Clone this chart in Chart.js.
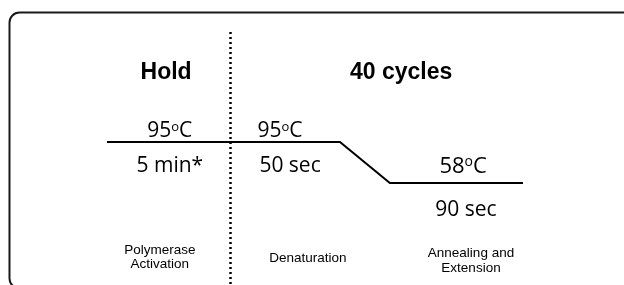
<!DOCTYPE html>
<html>
<head>
<meta charset="utf-8">
<script src="https://cdn.jsdelivr.net/npm/chart.js@4.4.0/dist/chart.umd.min.js"></script>
<style>
    body { margin: 0; background: #fff; }
    #wrap { width: 624px; height: 285px; position: relative; }
</style>
</head>
<body>
<div id="wrap"><canvas id="myChart"></canvas></div>
<script>
// temperature profile (x = stage position, y = temperature in C)
const profileX = [0, 5.6, 6.8, 10];
const profileT = [95, 95, 58, 58];
const stageBreak = 2.95;

const stageTitles = ['Hold', '40 cycles'];
const tempLabels = ['95', '95', '58'];
const timeLabels = ['5 min*', '50 sec', '90 sec'];
const stepNames = [['Polymerase', 'Activation'], ['Denaturation'], ['Annealing and', 'Extension']];

const points = profileX.map((x, i) => ({ x: x, y: profileT[i] }));

// draws "95oC" with a small raised o
const drawTemp = (ctx, num, cx, y, size) => {
    const big = size + 'px "Open Sans"';
    const small = Math.round(size * 0.62) + 'px "Open Sans"';
    ctx.font = big;
    const w1 = ctx.measureText(num).width;
    const w3 = ctx.measureText('C').width;
    ctx.font = small;
    const w2 = ctx.measureText('o').width;
    let x = cx - (w1 + w2 + w3) / 2;
    ctx.textAlign = 'left';
    ctx.font = big;
    ctx.fillText(num, x, y);
    x += w1;
    ctx.font = small;
    ctx.fillText('o', x, y - size * 0.3);
    x += w2;
    ctx.font = big;
    ctx.fillText('C', x, y);
};

const decor = {
    id: 'decor',
    beforeDraw: (chart) => {
        const ctx = chart.ctx;
        ctx.save();
        ctx.fillStyle = '#fff';
        ctx.fillRect(0, 0, chart.width, chart.height);
        // rounded frame
        ctx.strokeStyle = '#1a1a1a';
        ctx.lineWidth = 2;
        ctx.beginPath();
        ctx.roundRect(9.5, 12.5, 700, 276, 10);
        ctx.stroke();
        ctx.restore();
    },
    afterDraw: (chart) => {
        const ctx = chart.ctx;
        const xs = chart.scales.x;
        ctx.save();
        // dotted divider between hold and cycles
        const bx = Math.round(xs.getPixelForValue(stageBreak)) + 0.5;
        ctx.strokeStyle = '#000';
        ctx.lineWidth = 2.5;
        ctx.setLineDash([2, 3]);
        ctx.beginPath();
        ctx.moveTo(bx, 32);
        ctx.lineTo(bx, 285);
        ctx.stroke();
        ctx.setLineDash([]);

        ctx.fillStyle = '#000';
        ctx.textBaseline = 'alphabetic';
        ctx.textAlign = 'center';
        ctx.font = 'bold 23px "Liberation Sans", Arial';
        ctx.fillText(stageTitles[0], xs.getPixelForValue(1.42), 79);
        ctx.fillText(stageTitles[1], xs.getPixelForValue(7.07), 79);

        drawTemp(ctx, tempLabels[0], xs.getPixelForValue(1.51), 137, 21);
        drawTemp(ctx, tempLabels[1], xs.getPixelForValue(4.16), 137, 21);
        drawTemp(ctx, tempLabels[2], xs.getPixelForValue(8.56), 173, 22);

        ctx.textAlign = 'center';
        ctx.font = '21px "Open Sans"';
        ctx.fillText(timeLabels[0], xs.getPixelForValue(1.51), 172);
        ctx.fillText(timeLabels[1], xs.getPixelForValue(4.4), 172);
        ctx.fillText(timeLabels[2], xs.getPixelForValue(8.63), 216);

        ctx.font = '13.5px "Liberation Sans", Arial';
        ctx.fillText(stepNames[0][0], xs.getPixelForValue(1.27), 254);
        ctx.fillText(stepNames[0][1], xs.getPixelForValue(1.27), 268);
        ctx.fillText(stepNames[1][0], xs.getPixelForValue(4.83), 262);
        ctx.fillText(stepNames[2][0], xs.getPixelForValue(8.75), 257);
        ctx.fillText(stepNames[2][1], xs.getPixelForValue(8.75), 272);
        ctx.restore();
    },
};

new Chart(document.getElementById('myChart'), {
    type: 'line',
    data: {
        datasets: [
            {
                data: points,
                borderColor: '#000',
                borderWidth: 2,
                pointRadius: 0,
                tension: 0,
                fill: false,
                clip: false,
            },
        ],
    },
    options: {
        responsive: true,
        maintainAspectRatio: false,
        animation: false,
        events: [],
        layout: { padding: { left: 107, right: 101, top: 125.4, bottom: 82 } },
        plugins: { legend: { display: false }, tooltip: { enabled: false } },
        scales: {
            x: { type: 'linear', min: 0, max: 10, display: false },
            y: { type: 'linear', min: 40, max: 110, display: false },
        },
    },
    plugins: [decor],
});
</script>
</body>
</html>
